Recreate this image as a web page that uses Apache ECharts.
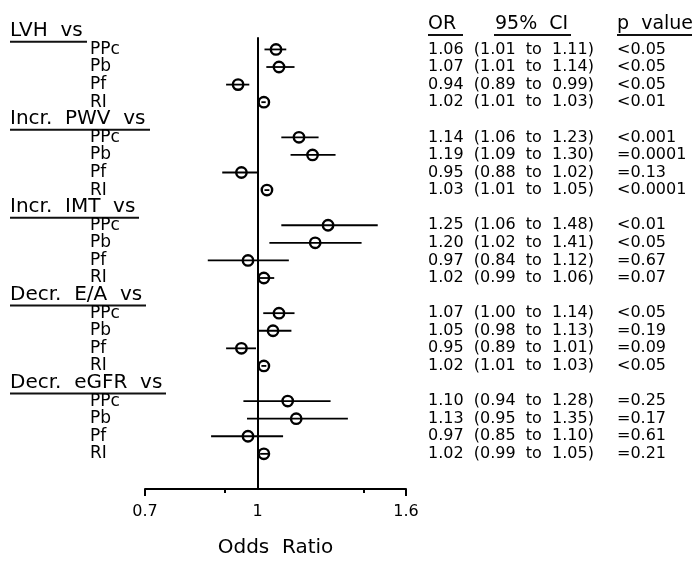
<!DOCTYPE html>
<html><head><meta charset="utf-8">
<script src="https://cdn.jsdelivr.net/npm/echarts@6/dist/echarts.min.js"></script>
<style>html,body{margin:0;padding:0;background:#fff}#c{width:697px;height:563px}</style>
</head><body><div id="c"></div>
<script>
const groups = ['LVH  vs', 'Incr.  PWV  vs', 'Incr.  IMT  vs', 'Decr.  E/A  vs', 'Decr.  eGFR  vs'];
const items = ['PPc', 'Pb', 'Pf', 'RI'];
const orVals = [1.06, 1.07, 0.94, 1.02, 1.14, 1.19, 0.95, 1.03, 1.25, 1.20, 0.97, 1.02, 1.07, 1.05, 0.95, 1.02, 1.10, 1.13, 0.97, 1.02];
const ciLow  = [1.01, 1.01, 0.89, 1.01, 1.06, 1.09, 0.88, 1.01, 1.06, 1.02, 0.84, 0.99, 1.00, 0.98, 0.89, 1.01, 0.94, 0.95, 0.85, 0.99];
const ciHigh = [1.11, 1.14, 0.99, 1.03, 1.23, 1.30, 1.02, 1.05, 1.48, 1.41, 1.12, 1.06, 1.14, 1.13, 1.01, 1.03, 1.28, 1.35, 1.10, 1.05];
const pValues = ['<0.05', '<0.05', '<0.05', '<0.01', '<0.001', '=0.0001', '=0.13', '<0.0001', '<0.01', '<0.05', '=0.67', '=0.07', '<0.05', '=0.19', '=0.09', '<0.05', '=0.25', '=0.17', '=0.61', '=0.21'];
// whisker ends as drawn in the picture
const barLow  = [1.022, 1.028, 0.905, 1.012, 1.078, 1.11, 0.894, 1.022, 1.078, 1.038, 0.854, 1.003, 1.018, 1.0, 0.905, 1.012, 0.956, 0.967, 0.863, 1.008];
const barHigh = [1.095, 1.124, 0.974, 1.026, 1.213, 1.28, 1.004, 1.038, 1.463, 1.39, 1.104, 1.054, 1.124, 1.113, 0.995, 1.028, 1.26, 1.331, 1.084, 1.035];
const tickLabels = [0.7, 1, 1.6];
const majorTicks = [0.7, 1.6];
const minorTicks = [0.9, 1.4];
const colHeaders = ['OR', '95%  CI', 'p  value'];

const FONT = 'DejaVu Sans';
const ROWS = 26;
const leftLabels = [], rightLabels = [], points = [];
const cv = document.createElement('canvas').getContext('2d');
cv.font = '20px "DejaVu Sans"';
const rich = {
  h: {fontSize: 20, fontFamily: FONT, color: '#000', lineHeight: 20},
  i: {fontSize: 17, fontFamily: FONT, color: '#000', lineHeight: 18, padding: [0, 0, 0, 80]}
};
groups.forEach((g, gi) => {
  const hr = gi * 5;
  rich['u' + gi] = {width: Math.round(cv.measureText(g).width) + 4, height: 2, lineHeight: 2, backgroundColor: '#111'};
  leftLabels[hr] = '{h|' + g + '}\n{u' + gi + '|}';
  rightLabels[hr] = '';
  items.forEach((it, ii) => {
    const k = gi * 4 + ii, r = hr + 1 + ii;
    leftLabels[r] = '{i|' + it + '}';
    rightLabels[r] = '{a|' + orVals[k].toFixed(2) + '  (' + ciLow[k].toFixed(2) + '  to  ' + ciHigh[k].toFixed(2) + ')}{b|' + pValues[k] + '}';
    points.push([orVals[k], barLow[k], barHigh[k], r]);
  });
});

const chart = echarts.init(document.getElementById('c'), null, {renderer: 'canvas'});
const yBase = {
  type: 'value', inverse: true, min: -1, max: ROWS, interval: 1,
  axisLine: {show: false, onZero: false}, axisTick: {show: false}, splitLine: {show: false}
};
const hdr = {fontSize: 19, fontWeight: 'normal', fontFamily: FONT, color: '#000', lineHeight: 20};
chart.setOption({
  animation: false,
  backgroundColor: '#fff',
  textStyle: {fontFamily: FONT},
  title: {
    left: 428, top: 14, padding: 0,
    text: '{o|' + colHeaders[0] + '}{c|' + colHeaders[1] + '}{p|' + colHeaders[2] + '}\n{uo|}{g1|}{uc|}{g2|}{up|}',
    textStyle: {
      fontWeight: 'normal',
      rich: {
        o: Object.assign({width: 67}, hdr),
        c: Object.assign({width: 122}, hdr),
        p: Object.assign({}, hdr),
        uo: {width: 35, height: 2, lineHeight: 2, backgroundColor: '#111'},
        g1: {width: 31, height: 2, lineHeight: 2},
        uc: {width: 77, height: 2, lineHeight: 2, backgroundColor: '#111'},
        g2: {width: 46, height: 2, lineHeight: 2},
        up: {width: 75, height: 2, lineHeight: 2, backgroundColor: '#111'}
      }
    }
  },
  grid: {left: 145, right: 291, top: 14.27, bottom: 70, containLabel: false},
  xAxis: [{
    type: 'log', logBase: 10, min: 0.7, max: 1.6, position: 'bottom',
    axisLine: {onZero: false, lineStyle: {color: '#000', width: 2}},
    axisTick: {customValues: majorTicks, length: 7, lineStyle: {color: '#000', width: 2}},
    axisLabel: {customValues: tickLabels, formatter: v => String(Math.round(v * 10) / 10), fontSize: 16, fontFamily: FONT, color: '#000', margin: 15},
    splitLine: {show: false}, minorTick: {show: false},
    name: 'Odds  Ratio', nameLocation: 'middle', nameGap: 49,
    nameTextStyle: {fontSize: 20, fontFamily: FONT, color: '#000'}
  }, {
    type: 'log', logBase: 10, min: 0.7, max: 1.6, position: 'bottom',
    axisLine: {show: false, onZero: false},
    axisTick: {customValues: minorTicks, length: 4, lineStyle: {color: '#000', width: 2}},
    axisLabel: {show: false}, splitLine: {show: false}
  }],
  yAxis: [Object.assign({}, yBase, {
    position: 'left',
    axisLabel: {align: 'left', margin: 135, hideOverlap: false,
      formatter: v => leftLabels[v] || '', rich: rich}
  }), Object.assign({}, yBase, {
    position: 'right',
    axisLabel: {align: 'left', margin: 22, hideOverlap: false,
      formatter: v => rightLabels[v] || '',
      rich: {
        a: {width: 189, fontSize: 16, fontFamily: FONT, color: '#000'},
        b: {fontSize: 16, fontFamily: FONT, color: '#000'}
      }}
  })],
  series: [{
    type: 'custom',
    xAxisIndex: 0, yAxisIndex: 0,
    dimensions: ['or', 'lo', 'hi', 'row'],
    encode: {x: [0, 1, 2], y: 3},
    data: points,
    renderItem: function (params, api) {
      const y = api.value(3);
      const c = api.coord([api.value(0), y]);
      const l = api.coord([api.value(1), y]);
      const h = api.coord([api.value(2), y]);
      return {
        type: 'group',
        children: [
          {type: 'line', shape: {x1: l[0], y1: l[1], x2: h[0], y2: h[1]}, style: {stroke: '#000', lineWidth: 1.8}},
          {type: 'circle', shape: {cx: c[0], cy: c[1], r: 5.2}, style: {fill: 'none', stroke: '#000', lineWidth: 2.4}}
        ]
      };
    },
    markLine: {
      silent: true, symbol: 'none', animation: false,
      label: {show: false},
      lineStyle: {color: '#000', width: 2, type: 'solid'},
      data: [[{coord: [1, 0.3]}, {coord: [1, ROWS]}]]
    }
  }]
});
</script>
</body></html>
